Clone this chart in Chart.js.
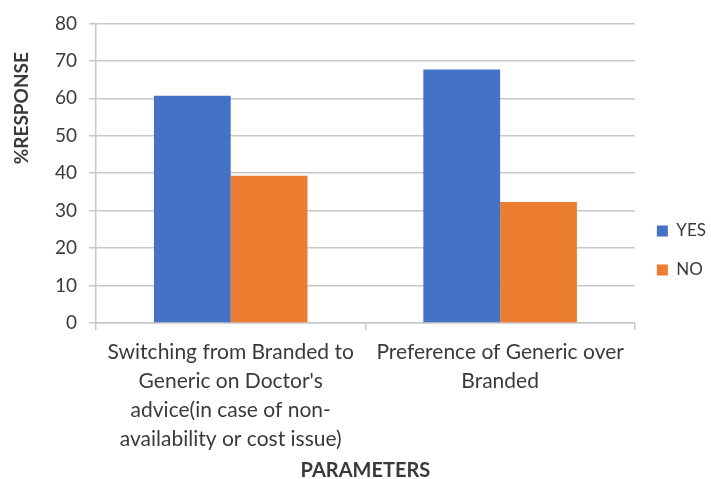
<!DOCTYPE html>
<html>
<head>
<meta charset="utf-8">
<script src="https://cdn.jsdelivr.net/npm/chart.js@4"></script>
<style>
  html, body { margin: 0; padding: 0; background: #fff; overflow: hidden; }
  #wrap { position: relative; width: 716px; height: 479px; }
</style>
</head>
<body>
<div id="wrap"><canvas id="grafico"></canvas></div>
<script>
// categorias y respuestas (%)
const categorias = [
  ['Switching from Branded to', "Generic on Doctor's", 'advice(in case of non-', 'availability or cost issue)'],
  ['Preference of Generic over', 'Branded']
];
const respuestasSi = [60.7, 67.7];
const respuestasNo = [39.3, 32.3];
const ticksY = [0, 10, 20, 30, 40, 50, 60, 70, 80];

const FUENTE = 'Lato, "Open Sans", sans-serif';
const colorGrid = '#c8c8c8';
const colorTexto = '#3a3a3a';

// titulo vertical del eje Y, dibujado a mano para dejarlo arriba
const tituloEjeY = {
  id: 'tituloEjeY',
  afterDraw(chart) {
    const { ctx, chartArea } = chart;
    ctx.save();
    ctx.translate(22, chartArea.top + (chartArea.bottom - chartArea.top) * 0.283);
    ctx.rotate(-Math.PI / 2);
    ctx.font = 'bold 19px ' + FUENTE;
    ctx.fillStyle = colorTexto;
    ctx.textAlign = 'center';
    ctx.textBaseline = 'middle';
    ctx.fillText('%RESPONSE', 0, 0);
    ctx.restore();
  }
};

const ctx = document.getElementById('grafico').getContext('2d');
new Chart(ctx, {
  type: 'bar',
  data: {
    labels: categorias,
    datasets: [
      { label: 'YES', data: respuestasSi, backgroundColor: '#4472C4' },
      { label: 'NO', data: respuestasNo, backgroundColor: '#ED7D31' }
    ]
  },
  options: {
    responsive: true,
    maintainAspectRatio: false,
    animation: false,
    layout: { padding: { top: 22, left: 0, right: 0, bottom: 0 } },
    datasets: { bar: { categoryPercentage: 0.57, barPercentage: 1 } },
    plugins: {
      tooltip: { enabled: false },
      legend: {
        position: 'right',
        labels: {
          boxWidth: 11,
          boxHeight: 11,
          padding: 22,
          color: colorTexto,
          font: { family: FUENTE, size: 17 }
        }
      }
    },
    scales: {
      x: {
        grid: { offset: true, drawOnChartArea: false, drawTicks: true, tickLength: 7, color: colorGrid, lineWidth: 1.5 },
        border: { color: colorGrid, width: 1.5 },
        ticks: {
          color: colorTexto,
          font: { family: FUENTE, size: 21, lineHeight: 1.38 },
          padding: 8,
          maxRotation: 0,
          autoSkip: false
        },
        title: {
          display: true,
          text: 'PARAMETERS',
          color: colorTexto,
          font: { family: FUENTE, size: 20, weight: 'bold', lineHeight: 0.8 },
          padding: { top: 4, bottom: 0 }
        },
        afterFit(scale) { scale.height = 156; }
      },
      y: {
        min: 0,
        max: 80,
        afterBuildTicks(scale) { scale.ticks = ticksY.map(v => ({ value: v })); },
        grid: { color: colorGrid, lineWidth: 1.5, tickLength: 7 },
        border: { color: colorGrid, width: 1.5 },
        ticks: {
          color: colorTexto,
          font: { family: FUENTE, size: 19 },
          padding: 12
        },
        afterFit(scale) { scale.width = 96; }
      }
    }
  },
  plugins: [tituloEjeY]
});
</script>
</body>
</html>
